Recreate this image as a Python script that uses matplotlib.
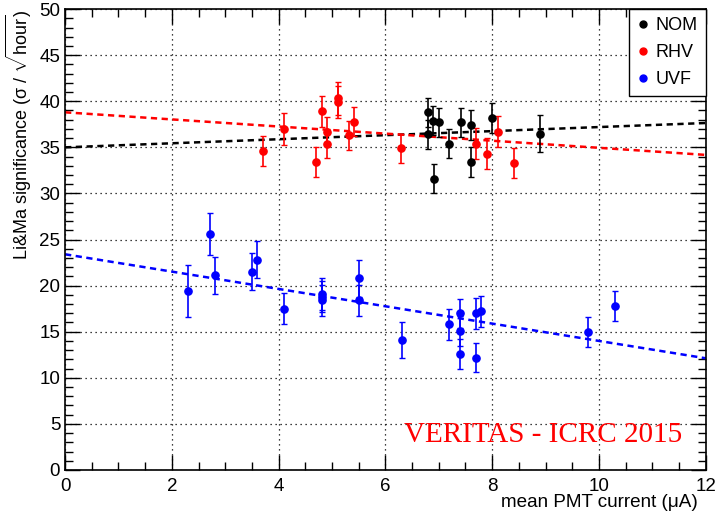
import numpy as np
import matplotlib
matplotlib.use('Agg')
import matplotlib.pyplot as plt
from matplotlib.ticker import MultipleLocator
from matplotlib.lines import Line2D

plt.rcParams['font.family'] = ['Liberation Sans', 'DejaVu Sans']
plt.rcParams['mathtext.fontset'] = 'custom'
plt.rcParams['mathtext.rm'] = 'Liberation Sans'
plt.rcParams['mathtext.it'] = 'Liberation Sans:italic'

# NOM data
nom_x = [6.80, 6.80, 6.90, 7.01, 6.91, 7.20, 7.41, 7.61, 7.61, 8.00, 8.90]
nom_y = [38.8, 36.4, 37.9, 37.7, 31.6, 35.4, 37.7, 37.4, 33.4, 38.2, 36.5]
nom_err = [1.6, 1.6, 1.6, 1.6, 1.6, 1.6, 1.6, 1.65, 1.65, 1.6, 2.0]

# RHV data
rhv_x = [3.71, 4.11, 4.70, 4.81, 4.91, 4.91, 5.11, 5.11, 5.41, 5.31, 6.30, 7.70, 7.90, 8.11, 8.40]
rhv_y = [34.6, 36.95, 33.4, 38.9, 36.7, 35.4, 40.3, 39.9, 37.8, 36.3, 34.9, 35.4, 34.3, 36.7, 33.3]
rhv_err = [1.6, 1.75, 1.6, 1.65, 1.6, 1.6, 1.75, 1.75, 1.6, 1.6, 1.6, 1.7, 1.7, 1.65, 1.6]

# UVF data
uvf_x = [2.31, 2.72, 2.81, 3.51, 3.60, 4.11, 4.81, 4.81, 4.81, 5.51, 5.51, 6.31,
         7.20, 7.40, 7.40, 7.40, 7.70, 7.80, 7.70, 9.80, 10.31]
uvf_y = [19.4, 25.6, 21.1, 21.5, 22.8, 17.5, 19.1, 18.8, 18.4, 20.8, 18.4, 14.1,
         15.8, 17.0, 15.1, 12.6, 17.0, 17.2, 12.2, 15.0, 17.8]
uvf_err = [2.8, 2.3, 2.0, 2.0, 2.0, 1.65, 1.7, 1.7, 1.7, 2.0, 1.7, 2.0,
           1.65, 1.6, 1.6, 1.65, 1.7, 1.65, 1.6, 1.65, 1.65]

# fitted lines (intercept, slope)
fit_nom = (35.0, 0.22)
fit_rhv = (38.8, -0.385)
fit_uvf = (23.4, -0.94)

series = [('NOM', nom_x, nom_y, nom_err, fit_nom, 'black'),
          ('RHV', rhv_x, rhv_y, rhv_err, fit_rhv, 'red'),
          ('UVF', uvf_x, uvf_y, uvf_err, fit_uvf, 'blue')]

fig = plt.figure(figsize=(7.15, 5.15), dpi=100)
ax = fig.add_axes([0.091, 0.0874, 0.896, 0.895])

xx = np.array([0, 12])
for name, x, y, err, fit, col in series:
    ax.errorbar(x, y, yerr=err, fmt='o', color=col, ms=5.2, elinewidth=1.2,
                capsize=2, capthick=1, zorder=3)
    ax.plot(xx, fit[0] + fit[1]*xx, color=col, ls=(0, (2.5, 1.8)), lw=1.8, zorder=2)

ax.set_xlim(0, 12)
ax.set_ylim(0, 50)
ax.xaxis.set_major_locator(MultipleLocator(2))
ax.xaxis.set_minor_locator(MultipleLocator(0.5))
ax.yaxis.set_major_locator(MultipleLocator(5))
ax.yaxis.set_minor_locator(MultipleLocator(1))
ax.tick_params(which='both', direction='in', top=True, right=True, labelsize=13.5, width=1)
ax.tick_params(which='major', length=11)
ax.tick_params(which='minor', length=5.5)
ax.tick_params(axis='x', pad=6)
ax.grid(True, which='major', ls=(0, (1, 3)), color='black', lw=0.9)
for s in ax.spines.values():
    s.set_linewidth(1.2)

ax.set_xlabel('mean PMT current (μA)', fontsize=13.6, ha='right')
ax.xaxis.set_label_coords(0.987, -0.052)
ax.set_ylabel(r'Li&Ma significance (σ / $\sqrt{\mathrm{hour}}$)', fontsize=13,
              loc='top', labelpad=4)

ax.text(0.964, 0.047, 'VERITAS - ICRC 2015', transform=ax.transAxes, ha='right',
        va='bottom', color='red', fontsize=21, family='Liberation Serif')

handles = [Line2D([], [], marker='o', ls='none', color=c, ms=5) for _, _, _, _, _, c in series]
leg = ax.legend(handles, [s[0] for s in series], loc='upper right', fontsize=13,
                frameon=True, fancybox=False, edgecolor='black', framealpha=1,
                handlelength=0.6, handletextpad=0.4, borderaxespad=0.0,
                labelspacing=0.55, borderpad=0.45)
leg.get_frame().set_linewidth(1.0)

fig.savefig('out.png', dpi=100)
